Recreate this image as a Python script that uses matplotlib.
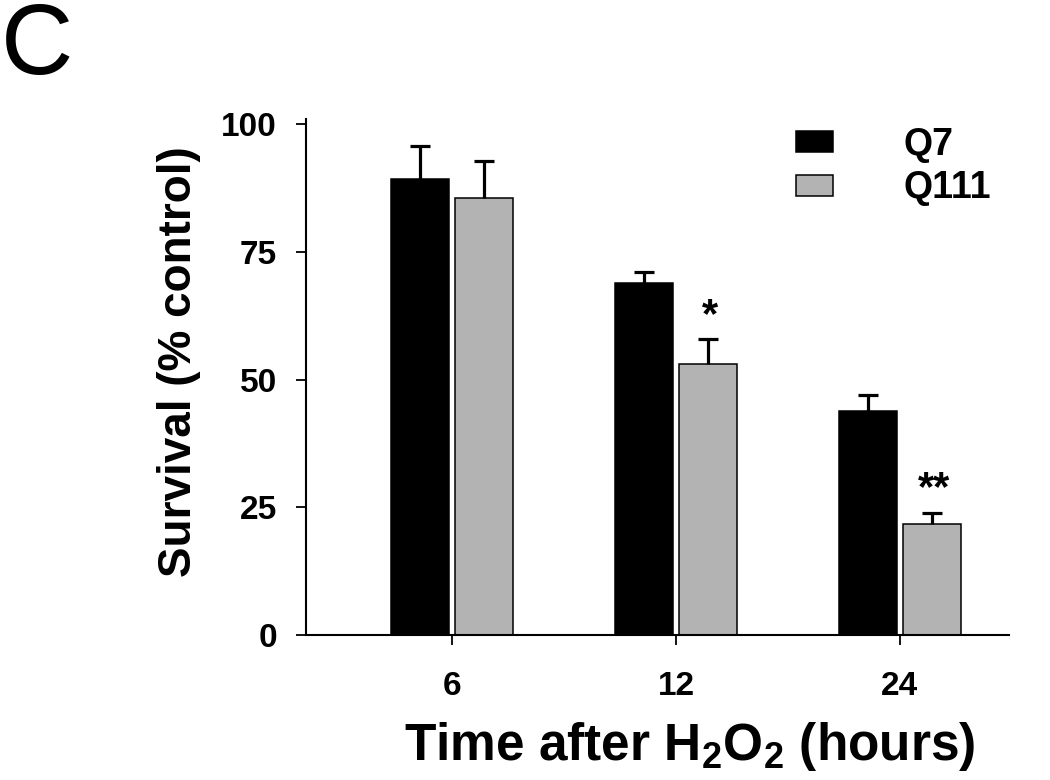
import numpy as np
import matplotlib
matplotlib.use("Agg")
import matplotlib.pyplot as plt
from matplotlib.patches import Patch

# ---- data ----
categories = ["6", "12", "24"]
series_names = ["Q7", "Q111"]
q7_values = [89.2, 68.9, 43.8]
q7_errors = [6.5, 2.1, 3.2]
q111_values = [85.5, 53.0, 21.7]
q111_errors = [7.3, 4.9, 2.2]
q111_marks = ["", "*", "**"]
y_ticks = [0, 25, 50, 75, 100]

plt.rcParams["font.family"] = ["Liberation Sans", "DejaVu Sans"]
plt.rcParams["mathtext.fontset"] = "custom"
plt.rcParams["mathtext.rm"] = "Liberation Sans:bold"
plt.rcParams["mathtext.bf"] = "Liberation Sans:bold"
plt.rcParams["mathtext.it"] = "Liberation Sans:bold"
plt.rcParams["mathtext.default"] = "bf"

W, H = 1050, 780
fig = plt.figure(figsize=(W / 100, H / 100), dpi=100)
ax_left, ax_right, ax_top, ax_bottom = 306, 1009, 119, 635
ax = fig.add_axes([ax_left / W, 1 - ax_bottom / H,
                   (ax_right - ax_left) / W, (ax_bottom - ax_top) / H])

gray = "#b3b3b3"
x = np.arange(len(categories))
bw = 0.258
off = 0.143
err_kw = dict(lw=2.3, capsize=7.5, capthick=2.3, ecolor="black")

b1 = ax.bar(x - off, q7_values, bw, color="black", edgecolor="black", linewidth=1.1,
            yerr=[np.zeros(len(q7_errors)), q7_errors], error_kw=err_kw, zorder=2)
b2 = ax.bar(x + off, q111_values, bw, color=gray, edgecolor="black", linewidth=1.1,
            yerr=[np.zeros(len(q111_errors)), q111_errors], error_kw=err_kw, zorder=2)
for b in (b1, b2):
    caps = b.errorbar.lines[1]
    if len(caps) >= 2:
        caps[0].set_visible(False)

for xi, v, e, m in zip(x, q111_values, q111_errors, q111_marks):
    if m:
        ax.text(xi + off + 0.01, v + e + 4.6, m, ha="center", va="center",
                fontsize=30, fontweight="bold")

ax.set_xlim(-0.652, 2.487)
ax.set_ylim(0, 101)
ax.set_xticks(x)
ax.set_xticklabels(categories)
ax.set_yticks(y_ticks)
ax.set_yticklabels([str(t) for t in y_ticks])

for s in ["top", "right"]:
    ax.spines[s].set_visible(False)
for s in ["left", "bottom"]:
    ax.spines[s].set_linewidth(1.5)

ax.tick_params(axis="both", direction="out", length=7, width=1.3,
               labelsize=24)
ax.tick_params(axis="x", pad=19)
ax.tick_params(axis="y", pad=14)
for lab in ax.get_xticklabels() + ax.get_yticklabels():
    lab.set_fontweight("bold")

ax.set_ylabel("Survival (% control)", fontsize=33, fontweight="bold")
ax.yaxis.set_label_coords((201 - ax_left) / (ax_right - ax_left),
                          (ax_bottom - 362) / (ax_bottom - ax_top))
ax.set_xlabel("Time after H$_2$O$_2$ (hours)", fontsize=37, fontweight="bold")
ax.xaxis.set_label_coords((690 - ax_left) / (ax_right - ax_left),
                          (ax_bottom - 720) / (ax_bottom - ax_top))

handles = [Patch(facecolor="black", edgecolor="black", linewidth=1.1),
           Patch(facecolor=gray, edgecolor="black", linewidth=1.1)]
leg = ax.legend(handles, series_names, loc="upper left",
                bbox_to_anchor=((796 - ax_left) / (ax_right - ax_left),
                                (ax_bottom - 127) / (ax_bottom - ax_top)),
                frameon=False, borderpad=0, borderaxespad=0,
                handlelength=0.99, handleheight=0.5, handletextpad=1.87,
                labelspacing=0.2,
                prop={"size": 27, "weight": "bold"})

fig.text(1 / W, 1 - 1 / H, "C", fontsize=72, ha="left", va="top")

fig.savefig("out.png", dpi=100)
